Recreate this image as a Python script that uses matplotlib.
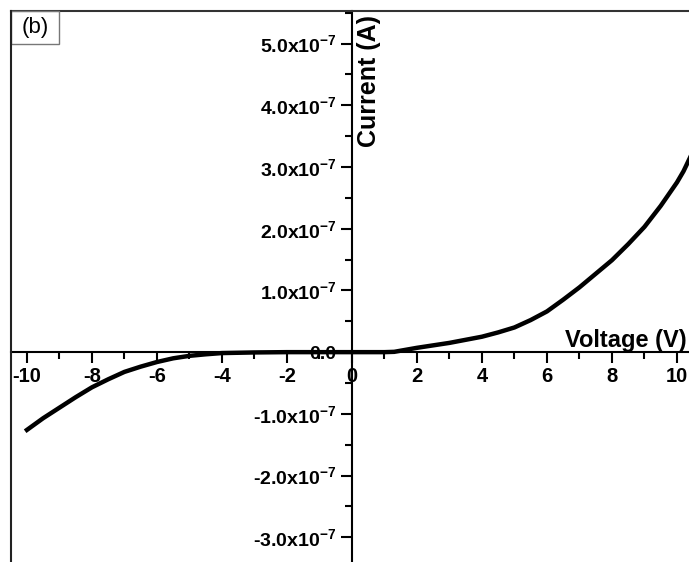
import numpy as np
import matplotlib.pyplot as plt
from matplotlib.lines import Line2D
from matplotlib.patches import Rectangle
from matplotlib.ticker import MultipleLocator, FuncFormatter

plt.rcParams['font.family'] = ['Liberation Sans', 'DejaVu Sans']
plt.rcParams['mathtext.fontset'] = 'custom'
plt.rcParams['mathtext.rm'] = 'Liberation Sans:bold'
plt.rcParams['mathtext.it'] = 'Liberation Sans:bold'
plt.rcParams['mathtext.bf'] = 'Liberation Sans:bold'
plt.rcParams['axes.unicode_minus'] = False

# I-V curve (current in units of 1e-7 A)
voltage = [-10, -9.5, -9, -8.5, -8, -7.5, -7, -6.5, -6, -5.5, -5, -4.5, -4, -3, -2, -1, 0, 1, 1.3,
           2, 2.5, 3, 3.5, 4, 4.5, 5, 5.5, 6, 6.5, 7, 7.5, 8, 8.5, 9, 9.5, 10, 10.2, 10.4]
current_e7 = [-1.26, -1.07, -0.90, -0.73, -0.57, -0.44, -0.32, -0.235, -0.16, -0.10, -0.06, -0.035,
              -0.015, -0.005, 0.0, 0.0, 0.0, 0.0, 0.005,
              0.07, 0.11, 0.15, 0.20, 0.25, 0.32, 0.40, 0.52, 0.66, 0.85, 1.05, 1.27, 1.49, 1.75,
              2.03, 2.37, 2.75, 2.93, 3.15]
current = np.array(current_e7) * 1e-7

W, H = 689, 562
fig = plt.figure(figsize=(W / 100, H / 100), dpi=100)
ax = fig.add_axes([11 / W, 0, 1 - 11 / W, 1 - 11 / H])

ax.plot(voltage, current, color='black', lw=3.2, zorder=5, solid_joinstyle='round')

ax.set_xlim(-10.49, 10.37)
ax.set_ylim(-3.40e-7, 5.527e-7)

for side in ['left', 'bottom']:
    ax.spines[side].set_position(('data', 0))
    ax.spines[side].set_linewidth(1.5)
ax.spines['right'].set_visible(False)
ax.spines['top'].set_linewidth(1.5)
ax.spines['top'].set_color('#333333')
fig.add_artist(Line2D([11 / W, 11 / W], [0, 1 - 11 / H], color='#222222', lw=1.5))

ax.xaxis.set_major_locator(MultipleLocator(2))
ax.xaxis.set_minor_locator(MultipleLocator(1))
ax.yaxis.set_major_locator(MultipleLocator(1e-7))
ax.yaxis.set_minor_locator(MultipleLocator(0.5e-7))


def yfmt(v, pos):
    if abs(v) < 1e-12:
        return '0.0'
    return f'{v / 1e-7:.1f}x10$^{{-7}}$'


ax.yaxis.set_major_formatter(FuncFormatter(yfmt))
ax.tick_params(which='major', direction='out', length=8, width=1.5, pad=3)
ax.tick_params(which='minor', direction='out', length=5, width=1.5)
ax.tick_params(axis='x', labelsize=14.5)
ax.tick_params(axis='y', labelsize=14)
for lab in ax.get_xticklabels() + ax.get_yticklabels():
    lab.set_fontweight('bold')

fig.text(687 / W, 1 - 347 / H, 'Voltage (V)', ha='right', va='baseline',
         fontsize=17, fontweight='bold')
fig.text(369 / W, 1 - 81 / H, 'Current (A)', ha='center', va='center', rotation=90,
         fontsize=18, fontweight='bold')

fig.add_artist(Rectangle((11 / W, 1 - 44 / H), 48 / W, 33 / H, fill=False,
                         edgecolor='#777777', lw=1))
fig.text(35 / W, 1 - 28 / H, '(b)', ha='center', va='center', fontsize=16)

fig.savefig('out.png', dpi=100)
